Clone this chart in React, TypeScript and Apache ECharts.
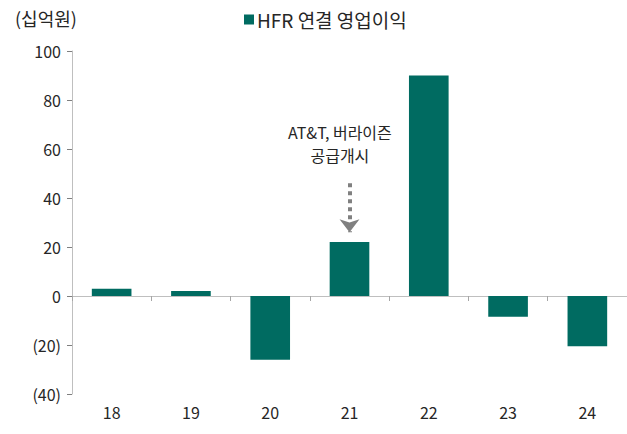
import React, { useEffect, useRef } from "react";
import * as echarts from "echarts";

const categories = ["18", "19", "20", "21", "22", "23", "24"];
const profit = [3, 2, -26, 22, 90, -8.5, -20.5];
const seriesName = "HFR 연결 영업이익";
const unitLabel = "(십억원)";
const noteText = "AT&T, 버라이즌\n공급개시";
const arrowFrom = 46;
const arrowTo = 26;
const FONT = "'Noto Sans CJK KR', 'Noto Sans', sans-serif";

export default function App() {
  const ref = useRef<HTMLDivElement>(null);
  useEffect(() => {
    document.body.style.margin = "0";
    if (!ref.current) return;
    const chart = echarts.init(ref.current, null, { renderer: "svg" });
    chart.setOption({
      animation: false,
      textStyle: { fontFamily: FONT },
      grid: { left: 72, right: 0, top: 51, bottom: 40 },
      title: {
        text: unitLabel,
        left: 10,
        top: 4,
        textStyle: { fontSize: 18, fontWeight: "normal", color: "#262626", fontFamily: FONT },
      },
      legend: {
        left: 239,
        top: 5,
        icon: "rect",
        itemWidth: 10,
        itemHeight: 10,
        itemGap: 4,
        textStyle: { fontSize: 19, color: "#262626", fontFamily: FONT, padding: [0, 0, 0, -2] },
        data: [seriesName],
      },
      xAxis: [
        {
          type: "category",
          data: categories,
          axisLine: { onZero: true, lineStyle: { color: "#bfbfbf", width: 1 } },
          axisTick: { show: true, length: 5, lineStyle: { color: "#a6a6a6" } },
          axisLabel: { show: false },
        },
        {
          type: "category",
          data: categories,
          position: "bottom",
          axisLine: { show: false, onZero: false },
          axisTick: { show: false },
          axisLabel: { fontSize: 16, color: "#262626", margin: 10, fontFamily: FONT },
        },
      ],
      yAxis: {
        type: "value",
        min: -40,
        max: 100,
        interval: 20,
        splitLine: { show: false },
        axisLine: { show: true, lineStyle: { color: "#bfbfbf" } },
        axisTick: { show: true, length: 5, lineStyle: { color: "#7f7f7f" } },
        axisLabel: {
          fontSize: 16,
          color: "#262626",
          margin: 11,
          fontFamily: FONT,
          formatter: (v: number) => (v < 0 ? `(${-v})` : `${v}`),
        },
      },
      series: [
        {
          name: seriesName,
          type: "bar",
          xAxisIndex: 0,
          data: profit,
          barWidth: "50%",
          itemStyle: { color: "#006b61" },
          markLine: {
            silent: true,
            symbol: ["none", "arrow"],
            symbolSize: [15, 13],
            label: { show: false },
            lineStyle: { color: "#808080", width: 4, type: [4, 4] },
            data: [
              [
                { coord: ["21", arrowFrom] },
                { coord: ["21", arrowTo] },
              ],
            ],
          },
        },
      ],
      graphic: [
        {
          type: "text",
          left: 288,
          top: 120,
          style: {
            text: noteText,
            fill: "#262626",
            font: `16px ${FONT}`,
            textAlign: "center",
            lineHeight: 23,
            x: 49,
          },
        },
      ],
    });
    return () => chart.dispose();
  }, []);
  return <div ref={ref} style={{ width: 627, height: 434 }} />;
}
